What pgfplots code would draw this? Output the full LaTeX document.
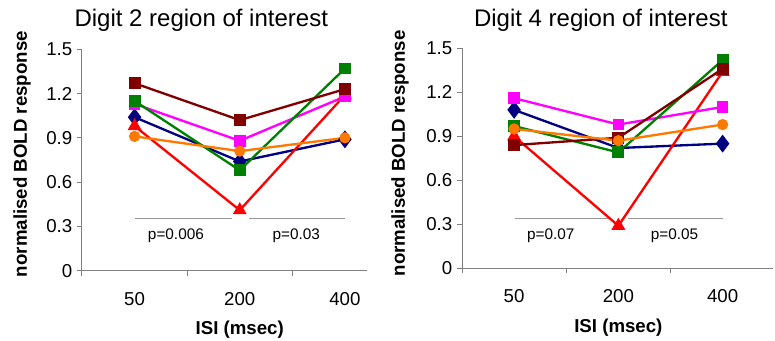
\documentclass[border=0pt]{standalone}
\usepackage{pgfplots}
\pgfplotsset{compat=1.18}
\usepackage{fontspec}
\setmainfont{Liberation Sans}
\definecolor{sblue}{RGB}{0,0,128}
\definecolor{smag}{RGB}{255,0,255}
\definecolor{sgreen}{RGB}{0,128,0}
\definecolor{sred}{RGB}{255,0,0}
\definecolor{sbrown}{RGB}{128,0,0}
\definecolor{sorange}{RGB}{255,120,0}
\definecolor{axgray}{RGB}{128,128,128}
\definecolor{refgray}{RGB}{150,150,150}
\pgfplotsset{
  roi/.style={
    scale only axis, clip=false,
    axis x line*=bottom, axis y line*=left,
    axis line style={axgray, line width=0.75pt},
    ymin=0, ymax=1.5, xmin=-0.5,
    ytick={0,0.3,0.6,0.9,1.2,1.5},
    yticklabel style={/pgf/number format/fixed, /pgf/number format/precision=1},
    xtick={0,1,2}, xticklabels={50,200,400},
    minor xtick={-0.5,0.5,1.5},
    tick align=outside,
    major tick length=3.75pt, minor tick length=3.75pt,
    tick style={axgray, line width=0.75pt},
    major x tick style={draw=none},
    /pgf/number format/assume math mode=true,
    ticklabel style={font=\fontsize{14}{16}\selectfont},
    xticklabel style={anchor=base, yshift=-22pt},
    label style={font=\bfseries\fontsize{14}{16}\selectfont},
    title style={font=\fontsize{18}{21}\selectfont, anchor=base, yshift=-6pt},
    xlabel={ISI (msec)}, ylabel={normalised BOLD response},
    every axis plot/.append style={line width=1.75pt},
  },
  sb/.style={sblue, mark=diamond*, mark size=5.3pt, mark options={solid, fill=sblue, draw=sblue}},
  sr/.style={sred, mark=triangle*, mark size=4.3pt, mark options={solid, fill=sred, draw=sred}},
  sm/.style={smag, mark=square*, mark size=3.5pt, mark options={solid, fill=smag, draw=smag}},
  sg/.style={sgreen, mark=square*, mark size=3.6pt, mark options={solid, fill=sgreen, draw=sgreen}},
  sbr/.style={sbrown, mark=square*, mark size=3.6pt, mark options={solid, fill=sbrown, draw=sbrown}},
  so/.style={sorange, mark=*, mark size=3.3pt, mark options={solid, fill=sorange, draw=sorange}},
  pref/.style={refgray, line width=0.8pt, mark=none},
}
\begin{document}
\begin{tikzpicture}
\useasboundingbox (0,0) rectangle (581.25pt,255.75pt);
% Left chart: Digit 2
\begin{axis}[roi, at={(61.5pt,52.725pt)}, anchor=south west,
  width=213.75pt, height=166.05pt, xmax=2.21,
  title={Digit 2 region of interest},
  title style={at={(axis cs:0.634,1.653)}},
  xlabel style={at={(axis cs:1,-0.43)}, anchor=base},
  ylabel style={at={(axis cs:-1.07,0.79)}, anchor=center}]
\addplot[pref] coordinates {(0.007,0.355) (0.923,0.355)};
\addplot[pref] coordinates {(1.091,0.355) (2.0,0.355)};
\addplot[sb] coordinates {(0,1.04) (1,0.74) (2,0.89)};
\addplot[sr] coordinates {(0,0.98) (1,0.41) (2,1.19)};
\addplot[sm] coordinates {(0,1.13) (1,0.88) (2,1.18)};
\addplot[sg] coordinates {(0,1.15) (1,0.68) (2,1.37)};
\addplot[sbr] coordinates {(0,1.27) (1,1.02) (2,1.23)};
\addplot[so] coordinates {(0,0.91) (1,0.81) (2,0.90)};
\node[font=\fontsize{11.5}{13}\selectfont] at (axis cs:0.393,0.235) {p=0.006};
\node[font=\fontsize{11.5}{13}\selectfont] at (axis cs:1.538,0.235) {p=0.03};
\end{axis}
% Right chart: Digit 4
\begin{axis}[roi, at={(346.5pt,54.525pt)}, anchor=south west,
  width=233pt, height=165pt, xmax=2.48,
  title={Digit 4 region of interest},
  title style={at={(axis cs:0.831,1.647)}},
  xlabel style={at={(axis cs:1,-0.44)}, anchor=base},
  ylabel style={at={(axis cs:-1.094,0.783)}, anchor=center}]
\addplot[pref] coordinates {(0.008,0.341) (0.929,0.341)};
\addplot[pref] coordinates {(1.094,0.341) (2.005,0.341)};
\addplot[sb] coordinates {(0,1.08) (1,0.82) (2,0.85)};
\addplot[sr] coordinates {(0,0.90) (1,0.29) (2,1.34)};
\addplot[sm] coordinates {(0,1.16) (1,0.98) (2,1.10)};
\addplot[sg] coordinates {(0,0.97) (1,0.79) (2,1.42)};
\addplot[sbr] coordinates {(0,0.84) (1,0.89) (2,1.36)};
\addplot[so] coordinates {(0,0.95) (1,0.87) (2,0.98)};
\node[font=\fontsize{11.5}{13}\selectfont] at (axis cs:0.351,0.22) {p=0.07};
\node[font=\fontsize{11.5}{13}\selectfont] at (axis cs:1.539,0.22) {p=0.05};
\end{axis}
\end{tikzpicture}
\end{document}
